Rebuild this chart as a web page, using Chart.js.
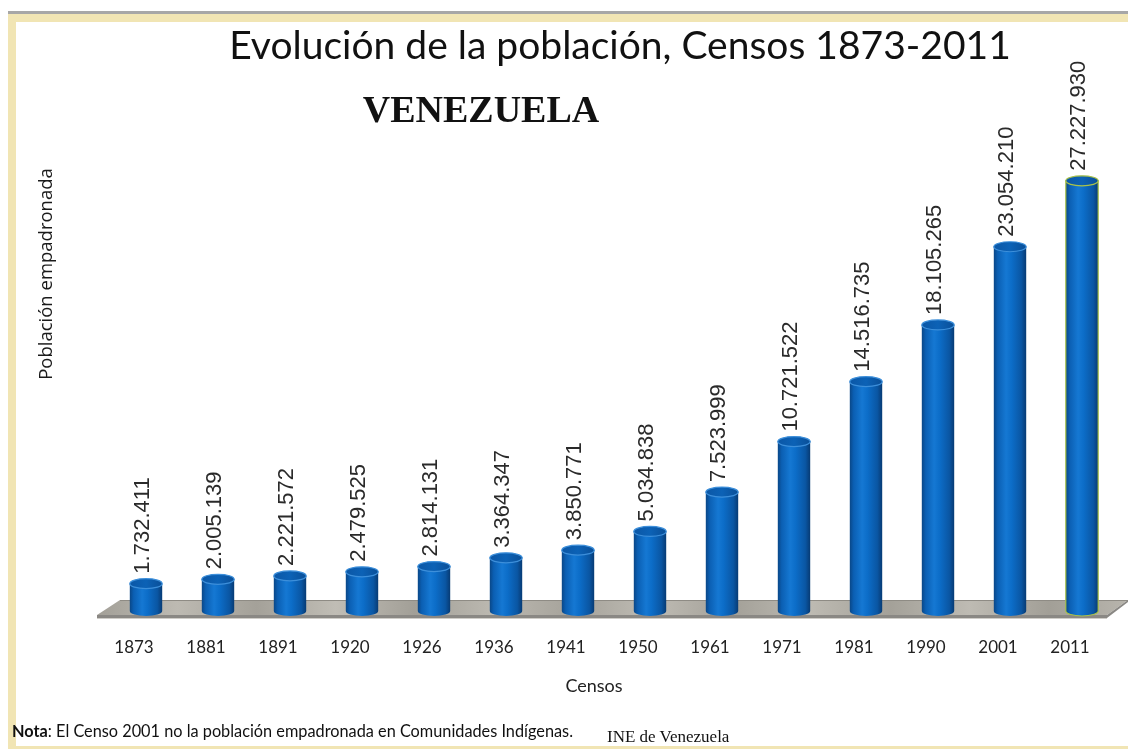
<!DOCTYPE html>
<html>
<head>
<meta charset="utf-8">
<script src="https://cdn.jsdelivr.net/npm/chart.js@4.4.1/dist/chart.umd.min.js"></script>
<style>
html,body{margin:0;padding:0;background:#fff;width:1128px;height:749px;overflow:hidden;}
#wrap{position:relative;width:1128px;height:749px;}
.gray{position:absolute;left:8px;top:11px;width:1120px;height:3px;background:#a7a7a7;}
.bTop{position:absolute;left:8px;top:14px;width:1120px;height:8px;background:#f1e5b4;}
.bLeft{position:absolute;left:8px;top:14px;width:8px;height:735px;background:#f1e5b4;}
.bBot{position:absolute;left:8px;top:746px;width:1120px;height:3px;background:#f1e5b4;}
canvas{position:absolute;left:0;top:0;}
.note{position:absolute;left:12px;top:721px;font:16.3px Lato, sans-serif;color:#111;white-space:nowrap;}
.ine{position:absolute;left:607px;top:727px;font:17px "Liberation Serif", serif;color:#111;white-space:nowrap;}
</style>
</head>
<body>
<div id="wrap">
  <div class="gray"></div><div class="bTop"></div><div class="bLeft"></div><div class="bBot"></div>
  <canvas id="c" width="1128" height="749"></canvas>
  <div class="note"><b>Nota</b>: El Censo 2001 no la población empadronada en Comunidades Indígenas.</div>
  <div class="ine">INE de Venezuela</div>
</div>
<script>
const censos = ['1873','1881','1891','1920','1926','1936','1941','1950','1961','1971','1981','1990','2001','2011'];
const poblacion = [1732411, 2005139, 2221572, 2479525, 2814131, 3364347, 3850771, 5034838, 7523999, 10721522, 14516735, 18105265, 23054210, 27227930];
const tituloPrincipal = 'Evolución de la población, Censos 1873-2011';
const subtitulo = 'VENEZUELA';
const tituloY = 'Población empadronada';
const tituloX = 'Censos';

function fmt(n){ return String(n).replace(/\B(?=(\d{3})+(?!\d))/g, '.'); }

const SHIFT = 12;   // 3D depth offset of cylinders relative to category centre
const RY = 5;

const floorPlugin = {
  id: 'floor',
  beforeDatasetsDraw(chart){
    const {ctx, chartArea} = chart;
    const b = chartArea.bottom;
    const L = chartArea.left, R = chartArea.right;
    const yTop = b - 11, yBot = b + 4, yStrip = b + 7;
    ctx.save();
    const g = ctx.createLinearGradient(L, 0, R + 22, 0);
    const cols = ['#a3a098','#bdbab2','#a4a199','#c0bdb5','#a29f97','#bcb9b1','#a5a29a','#bfbcb4','#a3a098','#bdbab2','#a4a199','#bebbb3','#a29f97','#b8b5ad'];
    cols.forEach((c,i)=>g.addColorStop(i/(cols.length-1), c));
    ctx.fillStyle = g;
    ctx.beginPath();
    ctx.moveTo(L + 22, yTop);
    ctx.lineTo(R + 22, yTop);
    ctx.lineTo(R + 1, yBot);
    ctx.lineTo(L - 1, yBot);
    ctx.closePath();
    ctx.fill();
    ctx.strokeStyle = '#8e8b84';
    ctx.lineWidth = 1;
    ctx.beginPath();
    ctx.moveTo(L + 22, yTop + 0.5); ctx.lineTo(R + 22, yTop + 0.5);
    ctx.stroke();
    ctx.fillStyle = '#8a8884';
    ctx.beginPath();
    ctx.moveTo(L - 1, yBot);
    ctx.lineTo(R + 1, yBot);
    ctx.lineTo(R + 22, yTop);
    ctx.lineTo(R + 22, yTop + 2);
    ctx.lineTo(R + 1, yStrip);
    ctx.lineTo(L - 1, yStrip);
    ctx.closePath();
    ctx.fill();
    ctx.strokeStyle = '#cfcdc8';
    ctx.beginPath();
    ctx.moveTo(L - 1, yStrip + 0.5); ctx.lineTo(R + 1, yStrip + 0.5);
    ctx.stroke();
    ctx.restore();
  }
};

const cylPlugin = {
  id: 'cyl',
  afterDatasetsDraw(chart){
    const {ctx} = chart;
    const meta = chart.getDatasetMeta(0);
    ctx.save();
    meta.data.forEach((el, i) => {
      const cx = el.x + SHIFT;
      const top = el.y, base = el.base;
      const rx = el.width / 2;
      const Lx = cx - rx, Rx = cx + rx;
      const g = ctx.createLinearGradient(Lx, 0, Rx, 0);
      g.addColorStop(0, '#0a4787');
      g.addColorStop(0.12, '#0b5fb3');
      g.addColorStop(0.38, '#1578d3');
      g.addColorStop(0.55, '#0c6dc8');
      g.addColorStop(0.85, '#0a56a3');
      g.addColorStop(1, '#073b74');
      ctx.beginPath();
      ctx.moveTo(Lx, top);
      ctx.lineTo(Lx, base);
      ctx.ellipse(cx, base, rx, RY, 0, Math.PI, 0, true);
      ctx.lineTo(Rx, top);
      ctx.closePath();
      ctx.fillStyle = g;
      ctx.fill();
      const last = i === meta.data.length - 1;
      if (last){
        ctx.strokeStyle = '#a9c24a'; ctx.lineWidth = 1.2; ctx.stroke();
      }
      ctx.beginPath();
      ctx.ellipse(cx, top, rx, RY, 0, 0, Math.PI * 2);
      const tg = ctx.createLinearGradient(Lx, 0, Rx, 0);
      tg.addColorStop(0, '#0b57a6'); tg.addColorStop(0.5, '#0c62b6'); tg.addColorStop(1, '#0a4f98');
      ctx.fillStyle = tg;
      ctx.fill();
      ctx.strokeStyle = last ? '#a9c24a' : '#3d8fda';
      ctx.lineWidth = 1.2;
      ctx.stroke();
      // value label
      ctx.save();
      ctx.translate(cx - 3, top - RY - 5);
      ctx.rotate(-Math.PI / 2);
      ctx.font = '22px "Liberation Sans", Arial, sans-serif';
      ctx.fillStyle = '#2a2a2a';
      ctx.textAlign = 'left';
      ctx.textBaseline = 'middle';
      ctx.fillText(fmt(poblacion[i]), 0, 0);
      ctx.restore();
    });
    ctx.restore();
  }
};

const textPlugin = {
  id: 'texts',
  afterDraw(chart){
    const {ctx} = chart;
    ctx.save();
    ctx.fillStyle = '#111';
    ctx.textAlign = 'center';
    ctx.textBaseline = 'alphabetic';
    ctx.font = '39px Lato, sans-serif';
    ctx.fillText(tituloPrincipal, 620, 59);
    ctx.font = 'bold 38px "Liberation Serif", serif';
    ctx.fillText(subtitulo, 481, 122);
    ctx.font = '18px Lato, sans-serif';
    ctx.fillStyle = '#222';
    ctx.textBaseline = 'middle';
    ctx.fillText(tituloX, 594, 686);
    ctx.save();
    ctx.translate(47, 274);
    ctx.rotate(-Math.PI / 2);
    ctx.font = '18.5px "Open Sans", sans-serif';
    ctx.fillStyle = '#1a1a1a';
    ctx.textBaseline = 'middle';
    ctx.fillText(tituloY, 0, 0);
    ctx.restore();
    ctx.restore();
  }
};

new Chart(document.getElementById('c'), {
  type: 'bar',
  data: {
    labels: censos,
    datasets: [{
      data: poblacion,
      backgroundColor: 'rgba(0,0,0,0)',
      borderWidth: 0,
      barPercentage: 0.45,
      categoryPercentage: 1.0
    }]
  },
  options: {
    responsive: false,
    animation: false,
    devicePixelRatio: 1,
    layout: { padding: { left: 98, right: 22, top: 137, bottom: 93 } },
    plugins: { legend: { display: false }, tooltip: { enabled: false }, title: { display: false } },
    scales: {
      x: {
        grid: { display: false, drawTicks: false },
        border: { display: false },
        ticks: { color: '#222', font: { family: 'Lato', size: 17 }, padding: 26, maxRotation: 0 },
        afterFit(scale){ scale.height = 45; }
      },
      y: {
        display: false,
        min: 0,
        max: 30000000
      }
    }
  },
  plugins: [floorPlugin, cylPlugin, textPlugin]
});
</script>
</body>
</html>
